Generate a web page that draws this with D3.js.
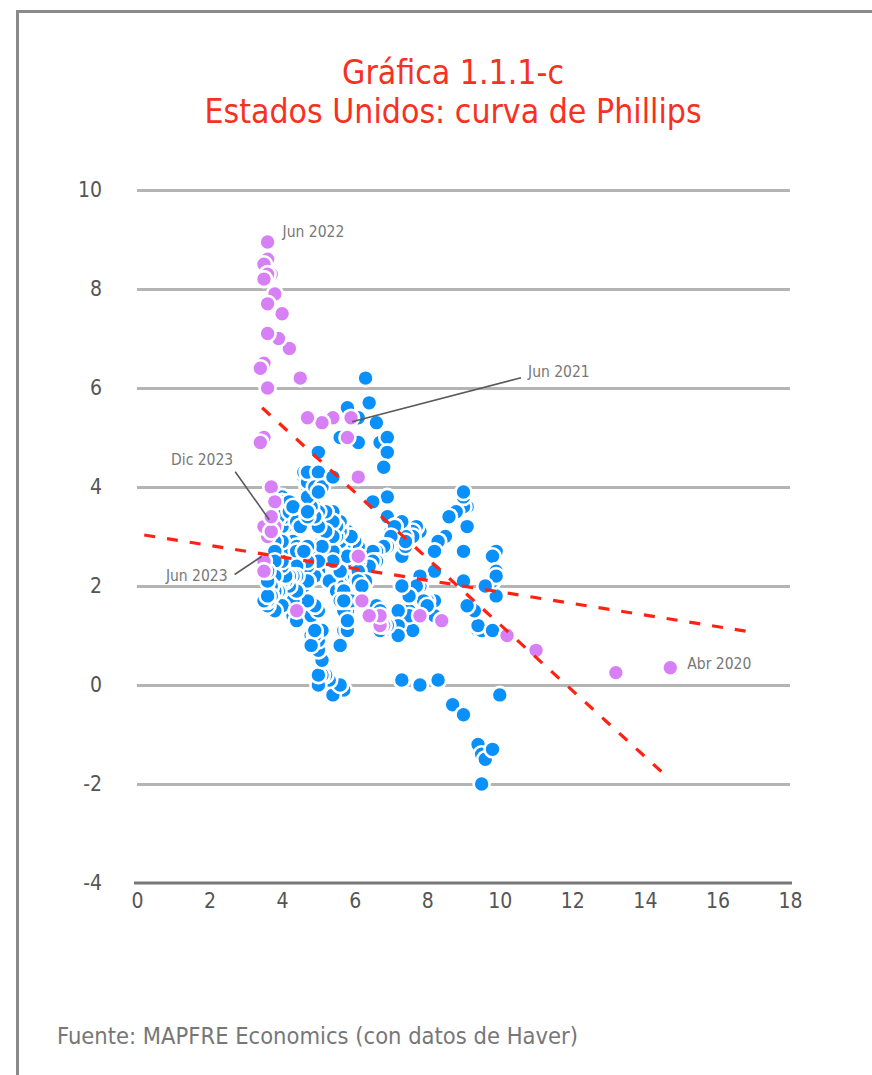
<!DOCTYPE html>
<html>
<head>
<meta charset="utf-8">
<script src="https://cdn.jsdelivr.net/npm/d3@7"></script>
<style>
	body { margin: 0; background: #fff; }
	svg text { font-family: 'Liberation Sans Narrow', 'DejaVu Sans Condensed', 'Arial Narrow', sans-serif; }
</style>
</head>
<body>
<svg id="chart"></svg>
<script>
// Desempleo (%) y variación interanual del IPC (%), dic 1990 - dic 2019
const preUnemployment = [
	6.3,
	6.4, 6.6, 6.8, 6.7, 6.9, 6.9, 6.8, 6.9, 6.9, 7.0, 7.0, 7.3,
	7.3, 7.4, 7.4, 7.4, 7.6, 7.8, 7.7, 7.6, 7.6, 7.3, 7.4, 7.4,
	7.3, 7.1, 7.0, 7.1, 7.1, 7.0, 6.9, 6.8, 6.7, 6.8, 6.6, 6.5,
	6.6, 6.6, 6.5, 6.4, 6.1, 6.1, 6.1, 6.0, 5.9, 5.8, 5.6, 5.5,
	5.6, 5.4, 5.4, 5.8, 5.6, 5.6, 5.7, 5.7, 5.6, 5.5, 5.6, 5.6,
	5.6, 5.5, 5.5, 5.6, 5.6, 5.3, 5.5, 5.1, 5.2, 5.2, 5.4, 5.4,
	5.3, 5.2, 5.2, 5.1, 4.9, 5.0, 4.9, 4.8, 4.9, 4.7, 4.6, 4.7,
	4.6, 4.6, 4.7, 4.3, 4.4, 4.5, 4.5, 4.5, 4.6, 4.5, 4.4, 4.4,
	4.3, 4.4, 4.2, 4.3, 4.2, 4.3, 4.3, 4.2, 4.2, 4.1, 4.1, 4.0,
	4.0, 4.1, 4.0, 3.8, 4.0, 4.0, 4.0, 4.1, 3.9, 3.9, 3.9, 3.9,
	4.2, 4.2, 4.3, 4.4, 4.3, 4.5, 4.6, 4.9, 5.0, 5.3, 5.5, 5.7,
	5.7, 5.7, 5.7, 5.9, 5.8, 5.8, 5.8, 5.7, 5.7, 5.7, 5.9, 6.0,
	5.8, 5.9, 5.9, 6.0, 6.1, 6.3, 6.2, 6.1, 6.1, 6.0, 5.8, 5.7,
	5.7, 5.6, 5.8, 5.6, 5.6, 5.6, 5.5, 5.4, 5.4, 5.5, 5.4, 5.4,
	5.3, 5.4, 5.2, 5.2, 5.1, 5.0, 5.0, 4.9, 5.0, 5.0, 5.0, 4.9,
	4.7, 4.8, 4.7, 4.7, 4.6, 4.6, 4.7, 4.7, 4.5, 4.4, 4.5, 4.4,
	4.6, 4.5, 4.4, 4.5, 4.4, 4.6, 4.7, 4.6, 4.7, 4.7, 4.7, 5.0,
	5.0, 4.9, 5.1, 5.0, 5.4, 5.6, 5.8, 6.1, 6.1, 6.5, 6.8, 7.3,
	7.8, 8.3, 8.7, 9.0, 9.4, 9.5, 9.5, 9.6, 9.8, 10.0, 9.9, 9.9,
	9.8, 9.8, 9.9, 9.9, 9.6, 9.4, 9.4, 9.5, 9.5, 9.4, 9.8, 9.3,
	9.1, 9.0, 9.0, 9.1, 9.0, 9.1, 9.0, 9.0, 9.0, 8.8, 8.6, 8.5,
	8.3, 8.3, 8.2, 8.2, 8.2, 8.2, 8.2, 8.0, 7.8, 7.8, 7.7, 7.9,
	8.0, 7.7, 7.5, 7.6, 7.5, 7.5, 7.3, 7.2, 7.2, 7.2, 6.9, 6.7,
	6.6, 6.7, 6.7, 6.2, 6.3, 6.1, 6.2, 6.1, 5.9, 5.7, 5.8, 5.6,
	5.7, 5.5, 5.4, 5.4, 5.6, 5.3, 5.2, 5.1, 5.0, 5.0, 5.1, 5.0,
	4.8, 4.9, 5.0, 5.1, 4.8, 4.9, 4.8, 4.9, 5.0, 4.9, 4.7, 4.7,
	4.7, 4.6, 4.4, 4.4, 4.4, 4.3, 4.3, 4.4, 4.3, 4.2, 4.2, 4.1,
	4.0, 4.1, 4.0, 4.0, 3.8, 4.0, 3.8, 3.8, 3.7, 3.8, 3.8, 3.9,
	4.0, 3.8, 3.8, 3.7, 3.6, 3.6, 3.7, 3.6, 3.5, 3.6, 3.6, 3.6,
];
const preInflation = [
	6.2,
	5.7, 5.3, 4.9, 4.9, 5.0, 4.7, 4.4, 3.8, 3.4, 2.9, 3.0, 3.1,
	2.6, 2.8, 3.2, 3.2, 3.0, 3.1, 3.2, 3.1, 3.0, 3.2, 3.0, 2.9,
	3.3, 3.2, 3.1, 3.2, 3.2, 3.0, 2.8, 2.8, 2.7, 2.8, 2.7, 2.7,
	2.5, 2.5, 2.5, 2.4, 2.3, 2.5, 2.8, 2.9, 3.0, 2.6, 2.7, 2.7,
	2.8, 2.9, 2.9, 3.1, 3.2, 3.0, 2.8, 2.6, 2.5, 2.8, 2.6, 2.5,
	2.7, 2.7, 2.8, 2.9, 2.9, 2.8, 3.0, 2.9, 3.0, 3.0, 3.3, 3.3,
	3.0, 3.0, 2.8, 2.5, 2.2, 2.3, 2.2, 2.2, 2.2, 2.1, 1.8, 1.7,
	1.6, 1.4, 1.4, 1.4, 1.7, 1.7, 1.7, 1.6, 1.5, 1.5, 1.5, 1.6,
	1.7, 1.6, 1.7, 2.3, 2.1, 2.0, 2.1, 2.3, 2.6, 2.6, 2.6, 2.7,
	2.7, 3.2, 3.8, 3.1, 3.2, 3.7, 3.7, 3.4, 3.5, 3.4, 3.4, 3.4,
	3.7, 3.5, 2.9, 3.3, 3.6, 3.2, 2.7, 2.7, 2.6, 2.1, 1.9, 1.6,
	1.1, 1.1, 1.5, 1.6, 1.2, 1.1, 1.5, 1.8, 1.5, 2.0, 2.2, 2.4,
	2.6, 3.0, 3.0, 2.2, 2.1, 2.1, 2.1, 2.2, 2.3, 2.0, 1.8, 1.9,
	1.9, 1.7, 1.7, 2.3, 3.1, 3.3, 3.0, 2.7, 2.5, 3.2, 3.5, 3.3,
	3.0, 3.0, 3.1, 3.5, 2.8, 2.5, 3.2, 3.6, 4.7, 4.3, 3.5, 3.4,
	4.0, 3.6, 3.4, 3.5, 4.2, 4.3, 4.1, 3.8, 2.1, 1.3, 2.0, 2.5,
	2.1, 2.4, 2.8, 2.6, 2.7, 2.7, 2.4, 2.0, 2.8, 3.5, 4.3, 4.1,
	4.3, 4.0, 4.0, 3.9, 4.2, 5.0, 5.6, 5.4, 4.9, 3.7, 1.1, 0.1,
	0.0, 0.1, -0.4, -0.6, -1.2, -1.4, -2.0, -1.5, -1.3, -0.2, 1.8, 2.7,
	2.6, 2.1, 2.3, 2.2, 2.0, 1.1, 1.2, 1.1, 1.1, 1.2, 1.1, 1.5,
	1.6, 2.1, 2.7, 3.2, 3.6, 3.6, 3.6, 3.8, 3.9, 3.5, 3.4, 3.0,
	2.9, 2.9, 2.7, 2.3, 1.7, 1.7, 1.4, 1.7, 2.0, 2.2, 1.8, 1.7,
	1.6, 2.0, 1.5, 1.1, 1.4, 1.8, 2.0, 1.5, 1.2, 1.0, 1.2, 1.5,
	1.6, 1.1, 1.5, 2.0, 2.1, 2.1, 2.0, 1.7, 1.7, 1.7, 1.3, 0.8,
	-0.1, 0.0, -0.1, -0.2, 0.0, 0.1, 0.2, 0.2, 0.0, 0.2, 0.5, 0.7,
	1.4, 1.0, 0.9, 1.1, 1.0, 1.0, 0.8, 1.1, 1.5, 1.6, 1.7, 2.1,
	2.5, 2.7, 2.4, 2.2, 1.9, 1.6, 1.7, 1.9, 2.2, 2.0, 2.2, 2.1,
	2.1, 2.2, 2.4, 2.5, 2.8, 2.9, 2.9, 2.7, 2.3, 2.5, 2.2, 1.9,
	1.6, 1.5, 1.9, 2.0, 1.8, 1.6, 1.8, 1.7, 1.7, 1.8, 2.1, 2.3,
];

// ene 2020 - dic 2023
const postUnemployment = [
	3.5, 3.5, 4.4, 14.7, 13.2, 11.0, 10.2, 8.4, 7.8, 6.8, 6.7, 6.7,
	6.4, 6.2, 6.1, 6.1, 5.8, 5.9, 5.4, 5.1, 4.7, 4.5, 4.2, 3.9,
	4.0, 3.8, 3.6, 3.7, 3.6, 3.6, 3.5, 3.6, 3.5, 3.6, 3.6, 3.5,
	3.4, 3.6, 3.5, 3.4, 3.7, 3.6, 3.5, 3.8, 3.8, 3.8, 3.7, 3.7,
];
const postInflation = [
	2.5, 2.3, 1.5, 0.35, 0.25, 0.7, 1.0, 1.3, 1.4, 1.2, 1.2, 1.4,
	1.4, 1.7, 2.6, 4.2, 5.0, 5.4, 5.4, 5.3, 5.4, 6.2, 6.8, 7.0,
	7.5, 7.9, 8.5, 8.3, 8.6, 8.95, 8.5, 8.3, 8.2, 7.7, 7.1, 6.5,
	6.4, 6.0, 5.0, 4.9, 4.0, 3.0, 3.2, 3.7, 3.7, 3.2, 3.1, 3.4,
];
const postMonths = d3.range(48).map((i) => new Date(2020, i, 1));

// líneas de tendencia (extremos)
const trendLongX = [0.2, 17.1];
const trendLongY = [3.03, 1.05];
const trendShortX = [3.45, 14.5];
const trendShortY = [5.6, -1.78];

const xTicks = [0, 2, 4, 6, 8, 10, 12, 14, 16, 18];
const yTicks = [-4, -2, 0, 2, 4, 6, 8, 10];

const annotations = [
	{ label: 'Jun 2022', date: '2022-06' },
	{ label: 'Jun 2021', date: '2021-06' },
	{ label: 'Dic 2023', date: '2023-12' },
	{ label: 'Jun 2023', date: '2023-06' },
	{ label: 'Abr 2020', date: '2020-04' },
];

const titleLines = ['Gráfica 1.1.1-c', 'Estados Unidos: curva de Phillips'];
const sourceText = 'Fuente: MAPFRE Economics (con datos de Haver)';

class PhillipsChart {
	constructor(_config) {
		this.config = {
			parentElement: _config.parentElement,
			containerWidth: 872,
			containerHeight: 1075,
			plotLeft: 137,
			plotRight: 790,
			plotTop: 190,
			plotBottom: 883,
			dotRadius: 8,
			dotStroke: 2.6,
		};
		this.initVis();
	}

	initVis() {
		let vis = this;

		vis.svg = d3
			.select(vis.config.parentElement)
			.attr('width', vis.config.containerWidth)
			.attr('height', vis.config.containerHeight);

		vis.svg
			.append('rect')
			.attr('width', vis.config.containerWidth)
			.attr('height', vis.config.containerHeight)
			.attr('fill', '#fff');

		// marco (solo arriba y a la izquierda caben en la imagen)
		vis.svg
			.append('path')
			.attr('d', `M17.5,${vis.config.containerHeight} V11.5 H${vis.config.containerWidth}`)
			.attr('fill', 'none')
			.attr('stroke', '#8a8a8a')
			.attr('stroke-width', 3);

		vis.svg
			.selectAll('.title')
			.data(titleLines)
			.join('text')
			.attr('class', 'title')
			.attr('x', 453)
			.attr('y', (d, i) => 84 + i * 39)
			.attr('text-anchor', 'middle')
			.attr('fill', '#f8301f')
			.style('font-size', '33.5px')
			.text((d) => d);

		vis.x = d3
			.scaleLinear()
			.domain([0, 18])
			.range([vis.config.plotLeft, vis.config.plotRight]);
		vis.y = d3
			.scaleLinear()
			.domain([-4, 10])
			.range([vis.config.plotBottom, vis.config.plotTop]);

		vis.chart = vis.svg.append('g');

		vis.renderVis();
	}

	renderVis() {
		let vis = this;

		// rejilla horizontal
		vis.chart
			.append('g')
			.attr('class', 'grid')
			.attr('transform', `translate(${vis.config.plotLeft},0)`)
			.call(
				d3
					.axisLeft(vis.y)
					.tickValues(yTicks.filter((d) => d > -4))
					.tickSize(-(vis.config.plotRight - vis.config.plotLeft))
					.tickFormat('')
			)
			.call((g) => g.select('.domain').remove())
			.call((g) =>
				g.selectAll('line').attr('stroke', '#b4b4b4').attr('stroke-width', 3)
			);

		// etiquetas del eje Y (guion simple, como en el original)
		vis.chart
			.append('g')
			.attr('class', 'y-axis')
			.attr('transform', `translate(${vis.config.plotLeft},0)`)
			.call(
				d3
					.axisLeft(vis.y)
					.tickValues(yTicks)
					.tickSize(0)
					.tickPadding(35)
					.tickFormat((d) => String(d))
			)
			.call((g) => g.select('.domain').remove())
			.call((g) =>
				g
					.selectAll('text')
					.attr('fill', '#555')
					.style('font-size', '21px')
					.style('font-family', null)
			);

		// eje X
		vis.chart
			.append('g')
			.attr('class', 'x-axis')
			.attr('transform', `translate(0,${vis.config.plotBottom})`)
			.call(d3.axisBottom(vis.x).tickValues(xTicks).tickSize(0).tickPadding(10))
			.call((g) =>
				g
					.select('.domain')
					.attr('stroke', '#777')
					.attr('stroke-width', 3)
					.attr('d', `M${vis.config.plotLeft - 3},0H${vis.config.plotRight + 2}`)
			)
			.call((g) =>
				g
					.selectAll('text')
					.attr('fill', '#555')
					.style('font-size', '21px')
					.style('font-family', null)
			);

		let prePoints = preUnemployment.map((u, i) => ({ u: u, p: preInflation[i] }));
		let postPoints = postUnemployment.map((u, i) => ({
			u: u,
			p: postInflation[i],
			date: d3.timeFormat('%Y-%m')(postMonths[i]),
		}));

		vis.chart
			.append('g')
			.selectAll('.dot-pre')
			.data(prePoints)
			.join('circle')
			.attr('class', 'dot-pre')
			.attr('cx', (d) => vis.x(d.u))
			.attr('cy', (d) => vis.y(d.p))
			.attr('r', vis.config.dotRadius)
			.attr('fill', '#0a90fa')
			.attr('stroke', '#fff')
			.attr('stroke-width', vis.config.dotStroke);

		vis.chart
			.append('g')
			.selectAll('.dot-post')
			.data(postPoints)
			.join('circle')
			.attr('class', 'dot-post')
			.attr('cx', (d) => vis.x(d.u))
			.attr('cy', (d) => vis.y(d.p))
			.attr('r', vis.config.dotRadius)
			.attr('fill', '#d780f6')
			.attr('stroke', '#fff')
			.attr('stroke-width', vis.config.dotStroke);

		// tendencias
		let line = d3
			.line()
			.x((d) => vis.x(d[0]))
			.y((d) => vis.y(d[1]));
		let trends = [
			d3.zip(trendLongX, trendLongY),
			d3.zip(trendShortX, trendShortY),
		];
		vis.chart
			.selectAll('.trend')
			.data(trends)
			.join('path')
			.attr('class', 'trend')
			.attr('d', line)
			.attr('fill', 'none')
			.attr('stroke', '#ff2212')
			.attr('stroke-width', 3.2)
			.attr('stroke-dasharray', '11,12');

		// anotaciones: desplazamientos del texto y de la línea guía respecto al punto
		let layout = {
			'2022-06': { tx: 15, ty: -10, anchor: 'start' },
			'2021-06': { tx: 177, ty: -46, anchor: 'start', lx1: 1, ly1: 4, lx2: 170, ly2: -40 },
			'2023-12': { tx: -38, ty: -57, anchor: 'end', lx1: -2, ly1: 3, lx2: -36, ly2: -45 },
			'2023-06': { tx: -40, ty: 39, anchor: 'end', lx1: -6, ly1: 20, lx2: -33, ly2: 38 },
			'2020-04': { tx: 17, ty: -4, anchor: 'start' },
		};

		annotations.forEach((a) => {
			let d = postPoints.find((p) => p.date === a.date);
			let cx = vis.x(d.u);
			let cy = vis.y(d.p);
			let l = layout[a.date];
			if (l.lx1 !== undefined) {
				vis.chart
					.append('line')
					.attr('x1', cx + l.lx1)
					.attr('y1', cy + l.ly1)
					.attr('x2', cx + l.lx2)
					.attr('y2', cy + l.ly2)
					.attr('stroke', '#5a5a5a')
					.attr('stroke-width', 1.6);
			}
			vis.chart
				.append('text')
				.attr('x', cx + l.tx)
				.attr('y', cy + l.ty)
				.attr('dy', '0.35em')
				.attr('text-anchor', l.anchor)
				.attr('fill', '#777')
				.style('font-size', '15.5px')
				.text(a.label);
		});

		vis.svg
			.append('text')
			.attr('x', 57)
			.attr('y', 1044)
			.attr('fill', '#777')
			.style('font-size', '23.5px')
			.text(sourceText);
	}
}

new PhillipsChart({ parentElement: '#chart' });
</script>
</body>
</html>
